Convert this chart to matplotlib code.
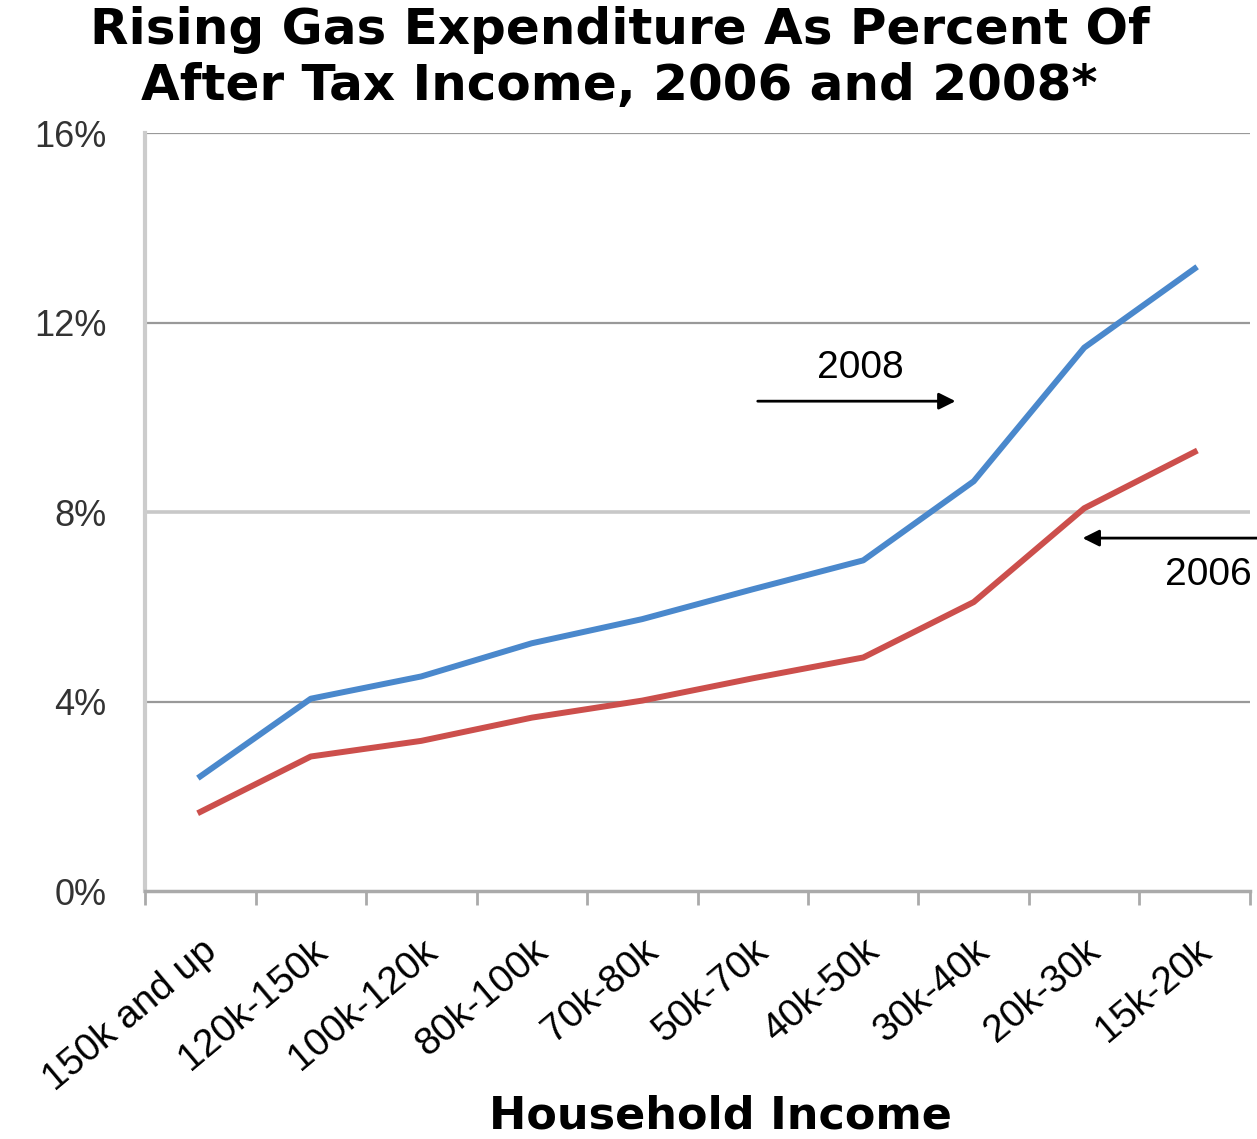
import matplotlib
matplotlib.use('Agg')
import matplotlib.pyplot as plt
import numpy as np

plt.rcParams['font.family'] = ['Liberation Sans', 'DejaVu Sans']

categories = ['150k and up', '120k-150k', '100k-120k', '80k-100k', '70k-80k',
              '50k-70k', '40k-50k', '30k-40k', '20k-30k', '15k-20k']
pct_2008 = [2.42, 4.06, 4.53, 5.23, 5.74, 6.37, 6.98, 8.65, 11.47, 13.14]
pct_2006 = [1.67, 2.84, 3.17, 3.66, 4.02, 4.49, 4.93, 6.10, 8.08, 9.27]
yticks = [0, 4, 8, 12, 16]

fig = plt.figure(figsize=(12.57, 11.39), dpi=100)
ax = fig.add_axes([0.1154, 0.2177, 0.879, 0.6655])

x = np.arange(len(categories))
ax.plot(x, pct_2008, color='#4a88cc', lw=4.3, solid_joinstyle='round')
ax.plot(x, pct_2006, color='#cc4f4c', lw=4.3, solid_joinstyle='round')

ax.set_xlim(-0.5, len(categories) - 0.5)
ax.set_ylim(0, 16)

# gridlines
for yv in yticks[1:]:
    c = '#c8c8c8' if yv == 8 else '#999999'
    w = 2.6 if yv == 8 else 1.6
    ax.axhline(yv, color=c, lw=w, zorder=0)

for s in ['top', 'right']:
    ax.spines[s].set_visible(False)
ax.spines['left'].set_color('#cccccc')
ax.spines['left'].set_linewidth(3)
ax.spines['bottom'].set_color('#aaaaaa')
ax.spines['bottom'].set_linewidth(2.5)

ax.set_yticks(yticks)
ax.set_yticklabels([f'{v}%' for v in yticks], fontsize=26, color='#333333')
ax.tick_params(axis='y', length=0, pad=28)

ax.set_xticks(np.arange(len(categories) + 1) - 0.5, minor=False)
ax.set_xticklabels([])
ax.tick_params(axis='x', which='major', length=10, width=2, color='#aaaaaa', direction='out')
ax.set_xticks(x, minor=True)
ax.set_xticklabels(categories, minor=True, rotation=40, ha='right', va='top',
                   rotation_mode='anchor', fontsize=28)
ax.tick_params(axis='x', which='minor', length=0, pad=30)

fig.text(0.573, 0.009, 'Household Income', fontsize=32, fontweight='bold',
         family='DejaVu Sans', ha='center', va='baseline')

fig.suptitle('Rising Gas Expenditure As Percent Of\nAfter Tax Income, 2006 and 2008*',
             fontsize=36, fontweight='bold', family='DejaVu Sans',
             x=0.493, y=0.995, linespacing=1.22)

# annotations
ax.annotate('', xy=(6.86, 10.34), xytext=(5.02, 10.34),
            arrowprops=dict(arrowstyle='-|>', color='black', lw=2, mutation_scale=25))
ax.text(5.97, 11.05, '2008', fontsize=28, ha='center', va='center')
ax.annotate('', xy=(7.96, 7.45), xytext=(9.7, 7.45), annotation_clip=False,
            arrowprops=dict(arrowstyle='-|>', color='black', lw=2, mutation_scale=25))
ax.text(9.12, 6.67, '2006', fontsize=28, ha='center', va='center', clip_on=False)

fig.savefig('out.png', dpi=100)
